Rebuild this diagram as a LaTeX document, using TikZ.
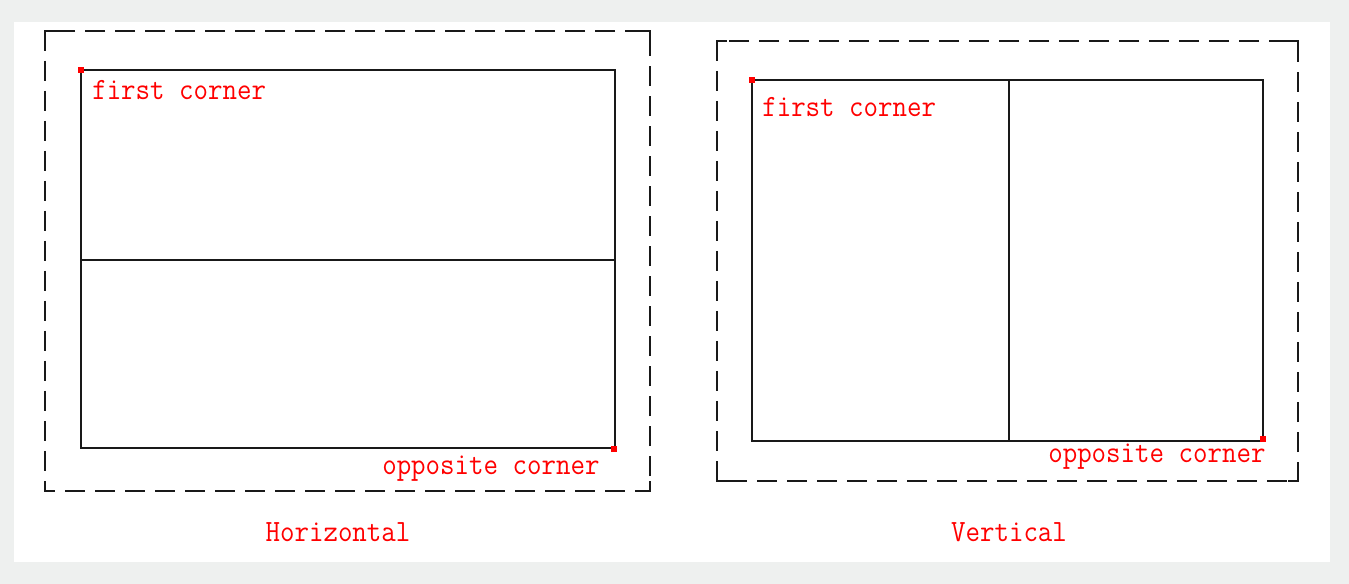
\documentclass[tikz,border=0pt]{standalone}
\usepackage{fontspec}
\usepackage{graphicx}
\definecolor{bggray}{RGB}{238,240,239}
\definecolor{linedark}{RGB}{25,25,25}
\definecolor{redlab}{RGB}{255,0,0}
\tikzset{
  solidline/.style={draw=linedark, line width=1.6pt},
  dashline/.style={draw=linedark, line width=2.1pt, dash pattern=on 15pt off 7.5pt},
  cornerline/.style={draw=linedark, line width=2.1pt},
  reddot/.style={fill=redlab},
  lab/.style={text=redlab, font=\ttfamily\fontsize{21.1pt}{23pt}\selectfont\addfontfeature{FakeBold=0.8}, inner sep=0pt, anchor=base west},
  caption/.style={text=redlab, font=\ttfamily\fontsize{21.1pt}{23pt}\selectfont\addfontfeature{FakeBold=0.8}, inner sep=0pt, anchor=base},
}
\newcommand{\tallt}[1]{\scalebox{1}[1.1]{#1}}
\newcommand{\mydashframe}[4]{%
  \draw[dashline] (#1,#2) rectangle (#3,#4);
  \draw[cornerline] (#1,#2+10) -- (#1,#2) -- (#1+10,#2);
  \draw[cornerline] (#3-10,#2) -- (#3,#2) -- (#3,#2+10);
  \draw[cornerline] (#1,#4-10) -- (#1,#4) -- (#1+10,#4);
  \draw[cornerline] (#3-10,#4) -- (#3,#4) -- (#3,#4-10);
}
\begin{document}
\begin{tikzpicture}[x=0.75pt, y=-0.75pt]
  \useasboundingbox (0,0) rectangle (1349,584);
  \fill[bggray] (0,0) rectangle (1349,584);
  \fill[white] (14,22) rectangle (1330,562);

  % Left: horizontal split
  \mydashframe{45}{31}{650}{491}
  \coordinate (LA) at (81,70);
  \coordinate (LB) at (615,448);
  \draw[solidline] (LA) rectangle (LB);
  \coordinate (LM1) at (81,260);
  \coordinate (LM2) at (615,260);
  \draw[solidline] (LM1) -- (LM2);
  \fill[reddot] (78,67) rectangle (84,73);
  \fill[reddot] (611,446) rectangle (617,452);
  \node[lab] (lfirst) at (92,100) {\tallt{first corner}};
  \node[lab] (lopp) at (382,474) {\tallt{opposite corner}};
  \node[caption] (hcap) at (338,541) {\tallt{Horizontal}};

  % Right: vertical split
  \mydashframe{717}{41}{1298}{481}
  \coordinate (RA) at (752,80);
  \coordinate (RB) at (1263,441);
  \draw[solidline] (RA) rectangle (RB);
  \coordinate (RM1) at (1009,80);
  \coordinate (RM2) at (1009,441);
  \draw[solidline] (RM1) -- (RM2);
  \fill[reddot] (749,77) rectangle (755,83);
  \fill[reddot] (1260,436) rectangle (1266,442);
  \node[lab] (rfirst) at (762,117) {\tallt{first corner}};
  \node[lab] (ropp) at (1048,462) {\tallt{opposite corner}};
  \node[caption] (vcap) at (1009,541) {\tallt{Vertical}};
\end{tikzpicture}
\end{document}
